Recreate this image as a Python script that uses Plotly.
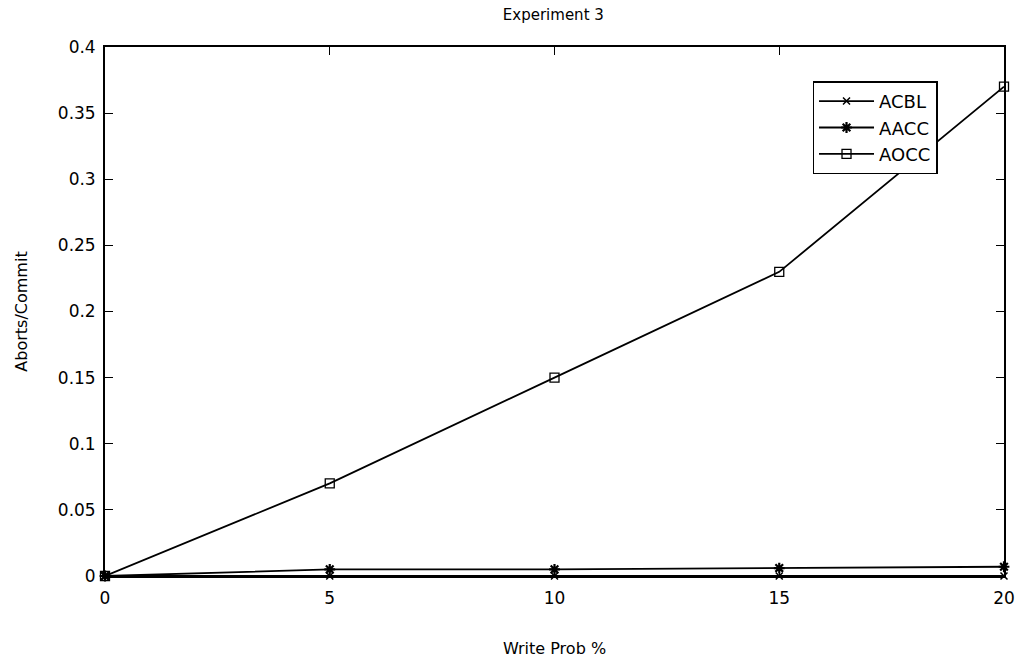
import plotly.graph_objects as go

# Write probability (%) on the x axis
write_prob = [0, 5, 10, 15, 20]

# Aborts per commit for each protocol
acbl = [0, 0, 0, 0, 0]
aacc = [0, 0.005, 0.005, 0.006, 0.007]
aocc = [0, 0.07, 0.15, 0.23, 0.37]

y_ticks = [0, 0.05, 0.1, 0.15, 0.2, 0.25, 0.3, 0.35, 0.4]
y_tick_text = ["0", "0.05", "0.1", "0.15", "0.2", "0.25", "0.3", "0.35", "0.4"]
x_ticks = [0, 5, 10, 15, 20]

FONT = "DejaVu Sans, Liberation Sans, sans-serif"

fig = go.Figure()

series = [
    ("ACBL", acbl, dict(symbol="x-thin-open", size=7, line=dict(width=1.5, color="black"))),
    ("AACC", aacc, dict(symbol="asterisk-open", size=9, line=dict(width=2.2, color="black"))),
    ("AOCC", aocc, dict(symbol="square-open", size=9, color="black", line=dict(width=1.3, color="black"))),
]
for name, vals, marker in series:
    fig.add_trace(go.Scatter(
        x=write_prob, y=vals, name=name, mode="lines+markers",
        line=dict(color="black", width=1.8), marker=marker,
        cliponaxis=False,
    ))

fig.update_layout(
    width=1020, height=663,
    margin=dict(l=105, r=16, t=47, b=87, autoexpand=False),
    paper_bgcolor="white", plot_bgcolor="white",
    font=dict(family=FONT, size=17, color="black"),
    title=dict(text="Experiment 3", x=0.5425, xanchor="center", y=0.985, yanchor="top",
               font=dict(family=FONT, size=15, color="black")),
    showlegend=True,
    legend=dict(x=0.787, y=0.935, xanchor="left", yanchor="top",
                bgcolor="white", bordercolor="black", borderwidth=1.5,
                font=dict(family=FONT, size=18, color="black"),
                tracegroupgap=0, itemwidth=55,
                ),
)

fig.update_xaxes(
    range=[0, 20], tickvals=x_ticks, ticks="inside", ticklen=8, tickwidth=1.2,
    tickcolor="black", mirror="ticks", showline=True, linecolor="black", linewidth=1.8,
    showgrid=False, zeroline=False, ticklabelstandoff=6, automargin=False,
    title=dict(text="Write Prob %", font=dict(family=FONT, size=16), standoff=36),
    tickfont=dict(family=FONT, size=17),
)
fig.update_yaxes(
    range=[0, 0.4], tickvals=y_ticks, ticktext=y_tick_text, ticks="inside", ticklen=8,
    tickwidth=1.2, tickcolor="black", mirror="ticks", showline=True, linecolor="black",
    linewidth=1.8, showgrid=False, zeroline=False, ticklabelstandoff=4, automargin=False,
    title=dict(text="Aborts/Commit", font=dict(family=FONT, size=16), standoff=26),
    tickfont=dict(family=FONT, size=17),
)

fig.write_html("out.html")
